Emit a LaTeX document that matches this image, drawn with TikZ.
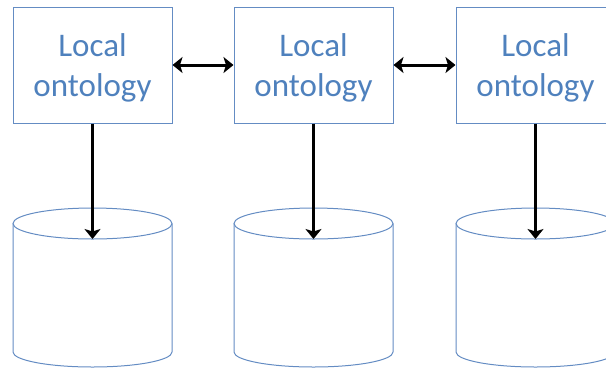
\documentclass[tikz,border=0pt]{standalone}
\usepackage{fontspec}
\setmainfont{Carlito}
\usetikzlibrary{arrows.meta}
\definecolor{txtblue}{RGB}{79,129,189}
\definecolor{lineblue}{RGB}{100,140,195}
\begin{document}
\begin{tikzpicture}[x=1pt,y=-1pt,
  onto/.style={draw=lineblue,line width=1pt,minimum width=159pt,minimum height=116pt,inner sep=0pt},
  ontotxt/.style={text=txtblue,font=\fontsize{33}{40}\selectfont,align=center,inner sep=0pt,yshift=-3pt},
  tip/.tip={Stealth[length=10pt,width=16pt,inset=2.5pt]},
  link/.style={line width=3pt,tip-tip},
  down/.style={line width=3pt,-tip},
  cyl/.style={draw=lineblue,line width=1pt}]
\useasboundingbox (0,0) rectangle (606,368);
\clip (0,0) rectangle (606,368);
\node[onto,label={[ontotxt]center:Local\\ontology}] (o1) at (92.5,65) {};
\node[onto,label={[ontotxt]center:Local\\ontology}] (o2) at (313.5,65) {};
\node[onto,label={[ontotxt]center:Local\\ontology}] (o3) at (535.5,65) {};
\foreach \c/\n in {92.5/1,313.5/2,535.5/3}{
  \draw[cyl] (\c-79.5,223.5) -- (\c-79.5,352) arc[start angle=180,end angle=0,x radius=79.5,y radius=15] -- (\c+79.5,223.5);
  \draw[cyl] (\c,223.5) ellipse[x radius=79.5,y radius=15.5];
  \coordinate (d\n) at (\c,239);
}
\draw[link] (o1.east) -- (o2.west);
\draw[link] (o2.east) -- (o3.west);
\draw[down] (o1.south) -- (d1);
\draw[down] (o2.south) -- (d2);
\draw[down] (o3.south) -- (d3);
\end{tikzpicture}
\end{document}
